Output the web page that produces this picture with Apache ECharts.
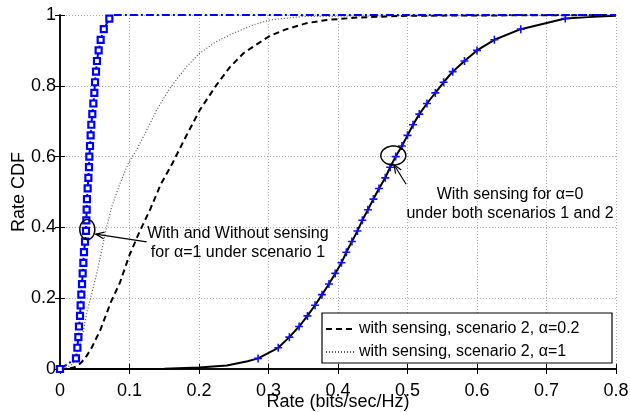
<!DOCTYPE html>
<html>
<head>
<meta charset="utf-8">
<script src="https://cdn.jsdelivr.net/npm/echarts@6/dist/echarts.min.js"></script>
<style>html,body{margin:0;padding:0;background:#fff;}#c{width:630px;height:412px;}</style>
</head>
<body>
<div id="c"></div>
<script>
// ---- data ----
var xTicks = [0, 0.1, 0.2, 0.3, 0.4, 0.5, 0.6, 0.7, 0.8];
var yTicks = [0, 0.2, 0.4, 0.6, 0.8, 1];

// alpha = 1 (with and without sensing, scenario 1): blue squares, dash-dot
var sqX = [0, 0.023, 0.025, 0.0264, 0.0273, 0.0288, 0.0297, 0.0307, 0.0317, 0.0326, 0.0336, 0.0345, 0.036, 0.0374, 0.0379, 0.0384, 0.0388, 0.0398, 0.0408, 0.0417, 0.0422, 0.0432, 0.0441, 0.0451, 0.0465, 0.048, 0.0494, 0.0504, 0.0518, 0.0532, 0.0556, 0.0585, 0.063, 0.071];
var sqY = [0, 0.03, 0.06, 0.09, 0.12, 0.15, 0.18, 0.21, 0.24, 0.27, 0.30, 0.33, 0.36, 0.39, 0.42, 0.45, 0.48, 0.51, 0.54, 0.57, 0.60, 0.63, 0.66, 0.69, 0.72, 0.75, 0.78, 0.81, 0.84, 0.87, 0.90, 0.93, 0.96, 0.99];
var sqTailX = [0.076, 0.8];
var sqTailY = [1, 1];

// alpha = 0 with sensing: blue plus markers
var plusX = [0.285, 0.314, 0.330, 0.344, 0.356, 0.367, 0.377, 0.387, 0.396, 0.405, 0.412, 0.420, 0.428, 0.435, 0.443, 0.451, 0.459, 0.468, 0.475, 0.483, 0.492, 0.500, 0.508, 0.517, 0.528, 0.540, 0.552, 0.565, 0.582, 0.600, 0.625, 0.663, 0.727];
var plusY = [0.03, 0.06, 0.09, 0.12, 0.15, 0.18, 0.21, 0.24, 0.27, 0.30, 0.33, 0.36, 0.39, 0.42, 0.45, 0.48, 0.51, 0.54, 0.57, 0.60, 0.63, 0.66, 0.69, 0.72, 0.75, 0.78, 0.81, 0.84, 0.87, 0.90, 0.93, 0.96, 0.99];

// alpha = 0 solid black curve (head and tail beyond the plus markers)
var solidHeadX = [0, 0.1, 0.15, 0.2, 0.24, 0.27];
var solidHeadY = [0, 0, 0.001, 0.004, 0.01, 0.022];
var solidTailX = [0.76, 0.8];
var solidTailY = [0.994, 0.998];

// with sensing, scenario 2, alpha = 0.2 (dashed)
var dashX = [0, 0.012, 0.02, 0.029, 0.036, 0.045, 0.058, 0.073, 0.086, 0.1, 0.115, 0.13, 0.145, 0.162, 0.181, 0.201, 0.225, 0.245, 0.264, 0.283, 0.302, 0.326, 0.355, 0.384, 0.43, 0.5, 0.8];
var dashY = [0, 0.001, 0.004, 0.015, 0.03, 0.058, 0.11, 0.188, 0.243, 0.322, 0.39, 0.452, 0.522, 0.582, 0.656, 0.731, 0.802, 0.854, 0.892, 0.917, 0.941, 0.96, 0.977, 0.986, 0.993, 0.998, 1.0];

// with sensing, scenario 2, alpha = 1 (dotted)
var dotX = [0, 0.007, 0.019, 0.0264, 0.0336, 0.0393, 0.0456, 0.0528, 0.06, 0.067, 0.0744, 0.0863, 0.098, 0.11, 0.12, 0.139, 0.158, 0.182, 0.201, 0.225, 0.249, 0.278, 0.302, 0.35, 0.8];
var dotY = [0, 0.001, 0.015, 0.052, 0.109, 0.165, 0.213, 0.269, 0.335, 0.401, 0.458, 0.524, 0.58, 0.618, 0.656, 0.731, 0.793, 0.854, 0.892, 0.925, 0.948, 0.972, 0.986, 0.996, 1.0];

var legendNames = ['with sensing, scenario 2, \u03b1=0.2', 'with sensing, scenario 2, \u03b1=1'];

// annotations (data coordinates)
var noteLeft = { ellipse: [0.0393, 0.394], arrowFrom: [0.1247, 0.359], arrowTo: [0.0515, 0.381],
  text: ['With and Without sensing', 'for \u03b1=1 under scenario 1'], textAt: [0.256, 0.358] };
var noteRight = { ellipse: [0.4796, 0.603], arrowFrom: [0.498, 0.522], arrowTo: [0.4806, 0.577],
  text: ['With sensing for \u03b1=0', 'under both scenarios 1 and 2'], textAt: [0.6475, 0.4696] };

// ---- chart ----
var FONT = 'Liberation Sans, Arial, Helvetica, sans-serif';
function zip(xs, ys) { return xs.map(function (x, i) { return [x, ys[i]]; }); }

var sqData = zip(sqX, sqY).concat(zip(sqTailX, sqTailY).map(function (p) { return { value: p, symbol: 'none' }; }));
var solidData = zip(solidHeadX, solidHeadY).concat(zip(plusX, plusY)).concat(zip(solidTailX, solidTailY));

var chart = echarts.init(document.getElementById('c'), null, { renderer: 'canvas' });
var axisCommon = {
  type: 'value',
  axisLine: { show: true, lineStyle: { color: '#000', width: 1.5 } },
  axisTick: { show: true, inside: true, length: 5, lineStyle: { color: '#000', width: 1 } },
  axisLabel: { color: '#000', fontSize: 18, fontFamily: FONT },
  splitLine: { show: true, lineStyle: { color: '#aaa', type: [1, 2], width: 1 } }
};
function ax(extra) { return Object.assign({}, JSON.parse(JSON.stringify(axisCommon)), extra); }
function fmt(v) { return String(Math.round(v * 10) / 10); }

var option = {
  animation: false,
  backgroundColor: '#fff',
  grid: { left: 60, right: 14, top: 15, bottom: 43, containLabel: false, outerBoundsMode: 'none' },
  xAxis: [
    ax({ min: xTicks[0], max: xTicks[xTicks.length - 1], interval: 0.1, position: 'bottom',
      name: 'Rate (bits/sec/Hz)', nameLocation: 'middle', nameGap: 24, nameMoveOverlap: false,
      nameTextStyle: { color: '#000', fontSize: 18, fontFamily: FONT },
      axisLabel: { color: '#000', fontSize: 18, fontFamily: FONT, margin: 13, formatter: fmt } }),
    ax({ min: xTicks[0], max: xTicks[xTicks.length - 1], interval: 0.1, position: 'top',
      axisLabel: { show: false }, splitLine: { show: false } })
  ],
  yAxis: [
    ax({ min: yTicks[0], max: yTicks[yTicks.length - 1], interval: 0.2, position: 'left',
      name: 'Rate CDF', nameLocation: 'middle', nameGap: 32, nameMoveOverlap: false,
      nameTextStyle: { color: '#000', fontSize: 18, fontFamily: FONT },
      axisLabel: { color: '#000', fontSize: 18, fontFamily: FONT, margin: 4, formatter: fmt } }),
    ax({ min: yTicks[0], max: yTicks[yTicks.length - 1], interval: 0.2, position: 'right',
      axisLabel: { show: false }, splitLine: { show: false } })
  ],
  legend: {
    data: legendNames,
    orient: 'vertical', left: 322, top: 313, z: 8,
    padding: [8, 0, 0, 3], itemWidth: 28, itemHeight: 17, itemGap: 7,
    itemStyle: { color: 'rgba(0,0,0,0)', borderWidth: 0, opacity: 0 },
    textStyle: { color: '#000', fontSize: 16, fontFamily: FONT },
    selectedMode: false
  },
  series: [
    { name: legendNames[1], type: 'line', data: zip(dotX, dotY), symbol: 'none', z: 3,
      lineStyle: { color: '#555', width: 1.2, type: [1, 2] }, itemStyle: { color: '#555' } },
    { name: legendNames[0], type: 'line', data: zip(dashX, dashY), symbol: 'none', z: 3,
      lineStyle: { color: '#000', width: 2, type: [6, 4] }, itemStyle: { color: '#000' } },
    { name: 'alpha0 scenario1', type: 'line', data: solidData, symbol: 'none', z: 3,
      lineStyle: { color: '#000', width: 2 } },
    { name: 'alpha0 scenario2', type: 'line', data: zip(plusX, plusY), z: 4,
      lineStyle: { width: 0, opacity: 0 },
      symbol: 'path://M4,0H6V4H10V6H6V10H4V6H0V4H4Z', symbolSize: 8, showAllSymbol: true,
      itemStyle: { color: '#1010ff', borderWidth: 0 } },
    { name: 'alpha1', type: 'line', data: sqData, z: 5,
      symbol: 'rect', symbolSize: 6, showAllSymbol: true,
      lineStyle: { color: '#0000ff', width: 2, type: [8, 3, 2, 3] },
      itemStyle: { color: '#fff', borderColor: '#0000ff', borderWidth: 2.2 } }
  ]
};
chart.setOption(option);

function px(p) { return chart.convertToPixel({ xAxisIndex: 0, yAxisIndex: 0 }, p); }
function ellipsePts(c, rx, ry) {
  var pts = [];
  for (var i = 0; i < 48; i++) {
    var a = i / 48 * Math.PI * 2;
    pts.push([c[0] + rx * Math.cos(a), c[1] + ry * Math.sin(a)]);
  }
  return pts;
}
function arrow(from, to) {
  var dx = to[0] - from[0], dy = to[1] - from[1];
  var L = Math.sqrt(dx * dx + dy * dy), ux = dx / L, uy = dy / L;
  var h = 9, th = 0.38;
  function rot(a) { return [ux * Math.cos(a) - uy * Math.sin(a), ux * Math.sin(a) + uy * Math.cos(a)]; }
  var r1 = rot(th), r2 = rot(-th);
  return [
    { type: 'line', shape: { x1: from[0], y1: from[1], x2: to[0], y2: to[1] }, style: { stroke: '#000', lineWidth: 1.2 }, z: 10 },
    { type: 'polyline', shape: { points: [[to[0] - h * r1[0], to[1] - h * r1[1]], to, [to[0] - h * r2[0], to[1] - h * r2[1]]] },
      style: { stroke: '#000', lineWidth: 1.2, fill: null }, z: 10 }
  ];
}
function note(n, rx, ry) {
  var c = px(n.ellipse), a = px(n.arrowFrom), b = px(n.arrowTo), t = px(n.textAt);
  var els = [{ type: 'polygon', shape: { points: ellipsePts(c, rx, ry) }, style: { stroke: '#000', lineWidth: 1.5, fill: null }, z: 10 }];
  els = els.concat(arrow(a, b));
  n.text.forEach(function (s, i) {
    els.push({ type: 'text', z: 10, style: { text: s, x: t[0], y: t[1] + (i - 0.5) * 19 + 1, fill: '#000',
      font: '16px ' + FONT, align: 'center', verticalAlign: 'middle' } });
  });
  return els;
}
var legendBox = { type: 'rect', z: 7, shape: { x: 322, y: 313, width: 290, height: 50 },
  style: { fill: '#fff', stroke: '#000', lineWidth: 1.2 } };
chart.setOption({ graphic: { elements: [legendBox].concat(note(noteLeft, 7.5, 10)).concat(note(noteRight, 12.5, 9.5)) } });
</script>
</body>
</html>
